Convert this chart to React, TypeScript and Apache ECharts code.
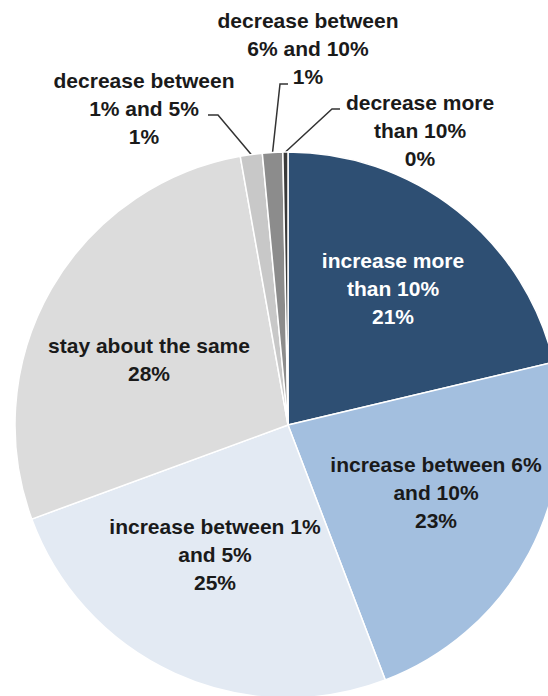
import React, { useEffect, useRef } from "react";
import * as echarts from "echarts";

// ---- data ----
const categories = [
  "increase more than 10%",
  "increase between 6% and 10%",
  "increase between 1% and 5%",
  "stay about the same",
  "decrease between 1% and 5%",
  "decrease between 6% and 10%",
  "decrease more than 10%",
];
const labelTexts = [
  "increase more\nthan 10%",
  "increase between 6%\nand 10%",
  "increase between 1%\nand 5%",
  "stay about the same",
  "decrease between\n1% and 5%",
  "decrease between\n6% and 10%",
  "decrease more\nthan 10%",
];
const values = [21.3, 22.9, 25.2, 27.8, 1.3, 1.2, 0.3];

// ---- styles / layout ----
const colors = ["#2E4F73", "#A3BFDF", "#E3EAF3", "#DCDCDC", "#C8C8C8", "#8C8C8C", "#3A3A3A"];
const textColors = ["#FFFFFF", "#1A1A1A", "#1A1A1A", "#1A1A1A", "#1A1A1A", "#1A1A1A", "#1A1A1A"];
const labelCenters: number[][] = [
  [393, 288],
  [436, 492],
  [215, 554],
  [149, 359],
  [144, 108],
  [308, 48],
  [420, 130],
];
// leader line bend + end for the small slices (null = no leader)
const leaderPoints: (number[][] | null)[] = [
  null,
  null,
  null,
  null,
  [[218, 115], [208, 115]],
  [[280, 84], [288, 84]],
  [[332, 109], [340, 109]],
];
const CENTER = [288, 425];
const RADIUS = 273;

export default function App() {
  const ref = useRef<HTMLDivElement>(null);
  useEffect(() => {
    if (!ref.current) return;
    const chart = echarts.init(ref.current, undefined, { renderer: "svg" });
    const total = values.reduce((a, b) => a + b, 0);
    const startPoint = (idx: number) => {
      let cum = 0;
      for (let i = 0; i < idx; i++) cum += values[i];
      const mid = ((cum + values[idx] / 2) / total) * Math.PI * 2;
      return [CENTER[0] + RADIUS * Math.sin(mid), CENTER[1] - RADIUS * Math.cos(mid)];
    };
    chart.setOption({
      animation: false,
      backgroundColor: "#FFFFFF",
      series: [
        {
          type: "pie",
          center: CENTER,
          radius: RADIUS,
          startAngle: 90,
          clockwise: true,
          avoidLabelOverlap: false,
          itemStyle: { borderColor: "#FFFFFF", borderWidth: 1.5 },
          emphasis: { disabled: true },
          label: {
            show: true,
            position: "outside",
            fontFamily: "Liberation Sans, Arial, sans-serif",
            fontWeight: "bold",
            fontSize: 21,
            lineHeight: 28,
            align: "center",
            formatter: (p: any) => `${labelTexts[p.dataIndex]}\n${Math.round(values[p.dataIndex])}%`,
          },
          labelLine: { show: true, lineStyle: { color: "#333333", width: 1.5 } },
          labelLayout: (params: any) => {
            const i = params.dataIndex;
            const c = labelCenters[i];
            const res: any = { x: c[0], y: c[1], align: "center", verticalAlign: "middle" };
            const lp = leaderPoints[i];
            if (lp) {
              const s =
                params.labelLinePoints && params.labelLinePoints[0]
                  ? params.labelLinePoints[0]
                  : startPoint(i);
              res.labelLinePoints = [s, lp[0], lp[1]];
            }
            return res;
          },
          data: categories.map((name, i) => ({
            name,
            value: values[i],
            itemStyle: { color: colors[i] },
            label: { color: textColors[i] },
            labelLine: { show: leaderPoints[i] !== null },
          })),
        },
      ],
    });
    return () => chart.dispose();
  }, []);
  return (
    <div
      ref={ref}
      style={{ position: "fixed", left: 0, top: 0, width: 548, height: 696 }}
    />
  );
}
